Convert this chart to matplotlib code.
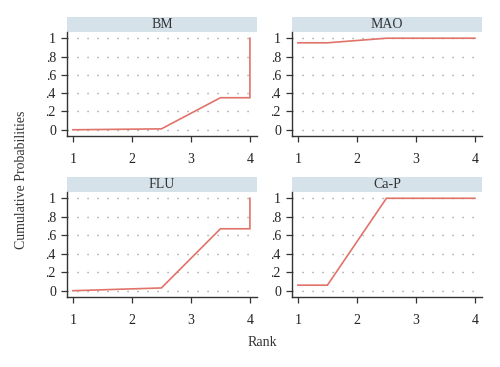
import matplotlib
matplotlib.use("Agg")
import matplotlib.pyplot as plt
from matplotlib.patches import Rectangle

titles = ["BM", "MAO", "FLU", "Ca-P"]
xs = [
    [1, 2.5, 3.5, 4, 4],
    [1, 1.5, 2.5, 4],
    [1, 2.5, 3.5, 4, 4],
    [1, 1.5, 2.5, 4],
]
ys = [
    [0.0, 0.01, 0.35, 0.35, 1.0],
    [0.95, 0.95, 1.0, 1.0],
    [0.0, 0.03, 0.67, 0.67, 1.0],
    [0.06, 0.06, 1.0, 1.0],
]
xticks = [1, 2, 3, 4]
yticks = [0, 0.2, 0.4, 0.6, 0.8, 1.0]
yticklabels = ["0", ".2", ".4", ".6", ".8", "1"]

plt.rcParams['font.family'] = ['Liberation Serif', 'DejaVu Serif']

W, H = 500, 367
fig = plt.figure(figsize=(5.0, 3.67), dpi=100)
fig.patch.set_facecolor('white')

# pixel boxes: (left, top, right, bottom) of plot area
boxes = [(67, 32, 257, 136), (292, 32, 482, 136), (67, 192, 257, 297), (292, 192, 482, 297)]
strip_h = 15
line_color = '#E0736A'
spine_color = '#333333'

for i, (l, t, r, b) in enumerate(boxes):
    ax = fig.add_axes([l / W, (H - b) / H, (r - l) / W, (b - t) / H])
    ax.plot(xs[i], ys[i], color=line_color, lw=1.2, solid_joinstyle='miter')
    ax.set_xlim(0.9, 4.12)
    ax.set_ylim(-0.068, 1.068)
    ax.set_xticks(xticks)
    ax.set_xticklabels([str(v) for v in xticks])
    ax.set_yticks(yticks)
    ax.set_yticklabels(yticklabels)
    for yv in yticks:
        ax.axhline(yv, color='#888888', lw=1.0, linestyle=(0, (0.8, 6.4)), zorder=0)
    for s in ['top', 'right']:
        ax.spines[s].set_visible(False)
    for s in ['left', 'bottom']:
        ax.spines[s].set_color(spine_color)
        ax.spines[s].set_linewidth(1.0)
    ax.tick_params(axis='both', direction='out', length=4, width=0.9, colors=spine_color,
                   labelsize=10, labelcolor='#222222')
    ax.tick_params(axis='x', pad=8)
    ax.tick_params(axis='y', pad=4)
    hh = strip_h / (b - t)
    rect = Rectangle((0, 1.0), 1.0, hh, transform=ax.transAxes, facecolor='#D5E2EA',
                     edgecolor='none', clip_on=False)
    ax.add_patch(rect)
    ax.text(0.5, 1.0 + hh / 2, titles[i], transform=ax.transAxes, ha='center', va='center',
            fontsize=10, color='#333333')

fig.text(262 / W, 1 - 343 / H, "Rank", ha='center', va='center', fontsize=10, color='#333333')
fig.text(22 / W, 1 - 180 / H, "Cumulative Probabilities", ha='center', va='center',
         rotation=90, fontsize=10, color='#333333')

fig.savefig("out.png", dpi=100)
